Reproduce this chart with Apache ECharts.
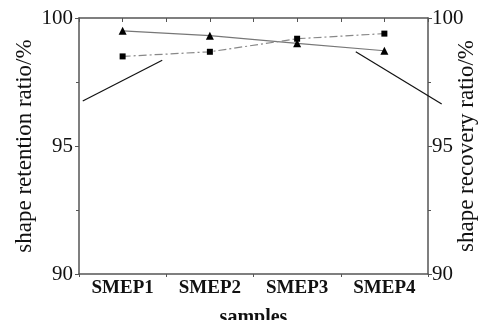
<!DOCTYPE html>
<html>
<head>
<meta charset="utf-8">
<script src="https://cdn.jsdelivr.net/npm/echarts@6/dist/echarts.min.js"></script>
<style>
html,body{margin:0;padding:0;background:#fff;}
#chart{width:483px;height:320px;}
</style>
</head>
<body>
<div id="chart"></div>
<script>
const categories = ['SMEP1', 'SMEP2', 'SMEP3', 'SMEP4'];
const retention = [99.50, 99.31, 99.01, 98.72];
const recovery = [98.50, 98.68, 99.19, 99.39];
// stray solid segments visible in the figure, x in category-index units
const strayLeft = [[-0.457, 96.76], [0.454, 98.35]];
const strayRight = [[2.672, 98.68], [3.657, 96.64]];
const yTicks = [90, 95, 100];

const FONT = 'Liberation Serif';
const axisGray = '#555';
const unitPx = 349 / 4;

const chart = echarts.init(document.getElementById('chart'));
chart.setOption({
  animation: false,
  backgroundColor: '#fff',
  grid: [
    { left: 79, right: 55, top: 18, bottom: 46, containLabel: false, outerBoundsMode: 'none' },
    { left: 79, right: 483 - 79 - unitPx * 4.2, top: 18, bottom: 46, containLabel: false, outerBoundsMode: 'none' }
  ],
  xAxis: [
    {
      type: 'category', gridIndex: 0,
      data: categories,
      position: 'bottom',
      boundaryGap: true,
      name: 'samples',
      nameLocation: 'middle',
      nameGap: 34,
      nameMoveOverlap: false,
      nameTextStyle: { fontFamily: FONT, fontSize: 20, fontWeight: 'bold', color: '#111' },
      axisLine: { onZero: false, lineStyle: { color: axisGray, width: 1.5 } },
      axisTick: { show: true, inside: false, length: 3, lineStyle: { color: axisGray } },
      axisLabel: { fontFamily: FONT, fontSize: 19, fontWeight: 'bold', color: '#111', margin: 5 }
    },
    {
      type: 'value', gridIndex: 0,
      position: 'top',
      min: -0.5, max: 3.5, interval: 0.5,
      axisLine: { show: true, onZero: false, lineStyle: { color: axisGray, width: 1.5 } },
      axisTick: { show: true, inside: true, length: 4, lineStyle: { color: axisGray } },
      axisLabel: { show: false },
      splitLine: { show: false }
    },
    {
      type: 'value', gridIndex: 1,
      min: -0.5, max: 3.7,
      show: false
    }
  ],
  yAxis: [
    {
      type: 'value', gridIndex: 0,
      position: 'left',
      min: 90, max: 100, interval: 5,
      name: 'shape retention ratio/%',
      nameLocation: 'middle',
      nameGap: 43,
      nameMoveOverlap: false,
      nameTextStyle: { fontFamily: FONT, fontSize: 23, color: '#111' },
      axisLine: { show: true, onZero: false, lineStyle: { color: axisGray, width: 1.5 } },
      axisTick: { show: true, inside: false, length: 4, lineStyle: { color: axisGray } },
      minorTick: { show: true, splitNumber: 2, length: 3, lineStyle: { color: axisGray } },
      axisLabel: { fontFamily: FONT, fontSize: 21, color: '#111', margin: 6,
        formatter: v => yTicks.includes(v) ? String(v) : '' },
      splitLine: { show: false }
    },
    {
      type: 'value', gridIndex: 0,
      position: 'right',
      min: 90, max: 100, interval: 5,
      name: 'shape recovery ratio/%',
      nameLocation: 'middle',
      nameRotate: 90,
      nameGap: 27,
      nameMoveOverlap: false,
      nameTextStyle: { fontFamily: FONT, fontSize: 23, color: '#111' },
      axisLine: { show: true, onZero: false, lineStyle: { color: axisGray, width: 1.5 } },
      axisTick: { show: true, inside: false, length: 4, lineStyle: { color: axisGray } },
      minorTick: { show: true, splitNumber: 2, length: 3, lineStyle: { color: axisGray } },
      axisLabel: { fontFamily: FONT, fontSize: 21, color: '#111', margin: 4,
        formatter: v => yTicks.includes(v) ? String(v) : '' },
      splitLine: { show: false }
    },
    {
      type: 'value', gridIndex: 1,
      min: 90, max: 100,
      show: false
    }
  ],
  series: [
    {
      name: 'retention', type: 'line', xAxisIndex: 0, yAxisIndex: 0,
      data: retention,
      symbol: 'triangle', symbolSize: 8,
      itemStyle: { color: '#000' },
      lineStyle: { color: '#777', width: 1.2, type: 'solid' }
    },
    {
      name: 'recovery', type: 'line', xAxisIndex: 0, yAxisIndex: 1,
      data: recovery,
      symbol: 'rect', symbolSize: 6,
      itemStyle: { color: '#000' },
      lineStyle: { color: '#888', width: 1.2, type: [8, 3, 2, 3] }
    },
    {
      type: 'line', xAxisIndex: 2, yAxisIndex: 2, data: strayLeft,
      symbol: 'none',
      lineStyle: { color: '#111', width: 1.2 }
    },
    {
      type: 'line', xAxisIndex: 2, yAxisIndex: 2, data: strayRight,
      symbol: 'none',
      lineStyle: { color: '#111', width: 1.2 }
    }
  ]
});
</script>
</body>
</html>
